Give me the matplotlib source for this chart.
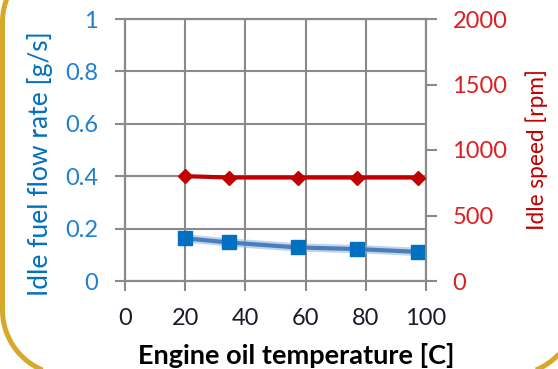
import matplotlib
matplotlib.use("Agg")
import numpy as np
import matplotlib.pyplot as plt
from matplotlib.path import Path
from matplotlib.patches import PathPatch
import matplotlib.patheffects as pe

# ---- data ----
oil_temp = [20, 34.5, 57.5, 77, 97.5]
fuel_flow = [0.163, 0.147, 0.128, 0.122, 0.111]
idle_speed = [800, 790, 790, 790, 790]
x_ticks = [0, 20, 40, 60, 80, 100]
y1_ticks = [0, 0.2, 0.4, 0.6, 0.8, 1.0]
y1_labels = ["0", "0.2", "0.4", "0.6", "0.8", "1"]
y2_ticks = [0, 500, 1000, 1500, 2000]
x_label = "Engine oil temperature [C]"
y1_label = "Idle fuel flow rate [g/s]"
y2_label = "Idle speed [rpm]"

plt.rcParams['font.family'] = ['Lato', 'DejaVu Sans']

W, H = 558, 369
fig = plt.figure(figsize=(W / 100, H / 100), dpi=100)
fig.patch.set_facecolor("white")

L, R, T, B = 125, 426, 19, 281
ax = fig.add_axes([L / W, 1 - B / H, (R - L) / W, (B - T) / H])
grid_c = "#8a8a8a"
ax.set_xlim(0, 100)
ax.set_ylim(0, 1)
ax.set_xticks(x_ticks)
ax.set_yticks(y1_ticks)
ax.set_yticklabels(y1_labels)
ax.grid(True, color=grid_c, lw=1.5)
ax.set_axisbelow(True)
for s in ax.spines.values():
    s.set_color(grid_c)
    s.set_linewidth(1.5)
ax.tick_params(axis='both', direction='out', length=7.5, width=1.5, color=grid_c,
               labelsize=17)
ax.tick_params(axis='y', pad=12, labelcolor="#1f7fd1")
ax.tick_params(axis='x', pad=12, labelcolor="#1a1a2a")

ax2 = ax.twinx()
ax2.set_ylim(0, 2000)
ax2.set_yticks(y2_ticks)
for s in ax2.spines.values():
    s.set_color(grid_c)
    s.set_linewidth(1.5)
ax2.tick_params(axis='y', direction='out', length=8, width=1.5, color=grid_c,
                labelsize=17, pad=11, labelcolor="#dd1f1f")

# fuel line with soft glow
ax.plot(oil_temp, fuel_flow, color="#4a7ebb", lw=3, zorder=3,
        path_effects=[pe.Stroke(linewidth=6, foreground="#9ab8de", alpha=0.6), pe.Normal()])
ax.plot(oil_temp, fuel_flow, ls='none', marker='s', markersize=9.5,
        color="#0070c0", zorder=4, clip_on=False)

ax2.plot(oil_temp, idle_speed, color="#c00000", lw=3, marker='D', markersize=7,
         markerfacecolor="#c00000", markeredgecolor="#c00000", zorder=4, clip_on=False)

fig.text(296.5 / W, 1 - 356 / H, x_label, ha='center', va='center',
         fontsize=19.5, fontweight='bold', color="black")
fig.text(40.5 / W, 1 - 164 / H, y1_label, ha='center', va='center',
         rotation=90, fontsize=19, color="#0070c0")
fig.text(537 / W, 1 - 150 / H, y2_label, ha='center', va='center',
         rotation=90, fontsize=16.3, color="#c00000")

# rounded gold frame (pixel coordinates, y down)
ov = fig.add_axes([0, 0, 1, 1], zorder=-1)
ov.set_xlim(0, W)
ov.set_ylim(0, H)
ov.axis('off')
ov.patch.set_alpha(0)
x0, x1, y0, y1, r = 2.5, 576.0, -43.0, 375.0, 65.0
pts = []
for cx, cy, a0 in [(x1 - r, y1 - r, 0), (x0 + r, y1 - r, 90), (x0 + r, y0 + r, 180), (x1 - r, y0 + r, 270)]:
    a = np.radians(np.linspace(a0, a0 + 90, 30))
    pts += list(zip(cx + r * np.cos(a), cy + r * np.sin(a)))
pts.append(pts[0])
pts = np.array(pts)
pts[:, 1] = H - pts[:, 1]
ov.add_patch(PathPatch(Path(pts), fill=False, edgecolor="#d6a92b", lw=3.6))

fig.savefig("out.png", dpi=100)
